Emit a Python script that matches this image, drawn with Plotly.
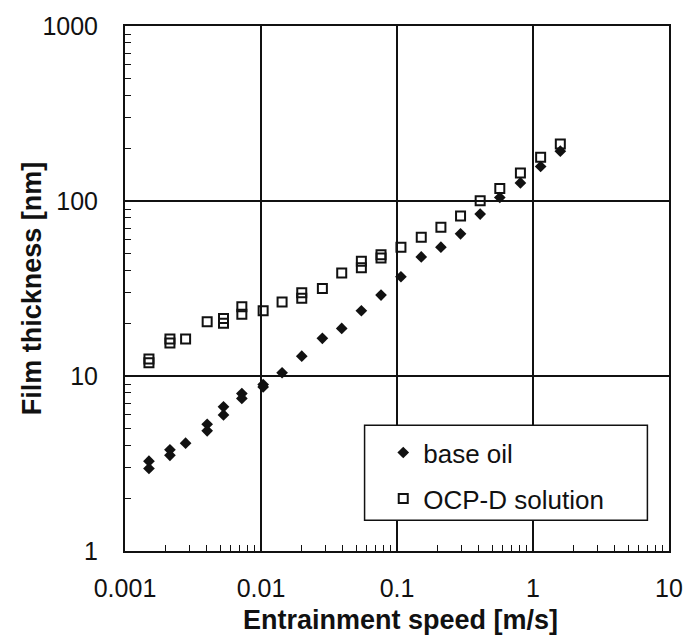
import plotly.graph_objects as go

# ---- data ----
base_oil_speed = [0.0015, 0.0015, 0.00214, 0.00214, 0.00279, 0.00402, 0.00402,
                  0.0053, 0.0053, 0.00723, 0.00723, 0.01037, 0.01037, 0.01429,
                  0.01994, 0.02827, 0.03922, 0.0547, 0.0763, 0.1069, 0.1508,
                  0.2103, 0.2933, 0.4088, 0.570, 0.808, 1.138, 1.588]
base_oil_thickness = [3.26, 2.96, 3.79, 3.52, 4.13, 5.30, 4.86,
                      6.67, 5.99, 7.94, 7.44, 8.93, 8.66, 10.44,
                      12.98, 16.42, 18.7, 23.6, 29.0, 36.9, 47.9,
                      54.5, 64.9, 84.2, 104.7, 126.8, 157.5, 192.5]

ocp_speed = [0.0015, 0.0015, 0.00214, 0.00214, 0.00279, 0.00402, 0.0053, 0.0053,
             0.00723, 0.00723, 0.01037, 0.01429, 0.01994, 0.01994, 0.02827,
             0.03922, 0.0547, 0.0547, 0.0763, 0.0763, 0.1069, 0.1508, 0.2103,
             0.2933, 0.4088, 0.570, 0.808, 1.138, 1.588]
ocp_thickness = [12.5, 11.9, 16.27, 15.44, 16.27, 20.4, 21.3, 20.0,
                 24.9, 22.5, 23.6, 26.5, 29.9, 27.8, 31.6,
                 38.8, 45.2, 41.5, 49.3, 47.2, 54.5, 62.1, 70.8,
                 82.0, 100.3, 117.7, 144.4, 178.0, 211.6]

x_tickvals = [0.001, 0.01, 0.1, 1, 10]
x_ticktext = ["0.001", "0.01", "0.1", "1", "10"]
y_tickvals = [1, 10, 100, 1000]
y_ticktext = ["1", "10", "100", "1000"]

series_names = ["base oil", "OCP-D solution"]
x_title = "Entrainment speed [m/s]"
y_title = "Film thickness [nm]"

FONT = "Liberation Sans, Arial, sans-serif"
INK = "#111111"

fig = go.Figure()
fig.add_trace(go.Scatter(
    x=base_oil_speed, y=base_oil_thickness, mode="markers", name=series_names[0],
    marker=dict(symbol="diamond", size=9, color=INK, line=dict(width=0)),
    legend="legend",
))
fig.add_trace(go.Scatter(
    x=ocp_speed, y=ocp_thickness, mode="markers", name=series_names[1],
    marker=dict(symbol="square-open", size=9, color=INK, line=dict(width=2, color=INK)),
    legend="legend2",
))

axis_common = dict(
    type="log",
    showline=True, linecolor=INK, linewidth=2, mirror=True,
    showgrid=True, gridcolor=INK, gridwidth=1.5,
    zeroline=False,
    ticks="inside", ticklen=8, tickwidth=1.5, tickcolor=INK,
    tickfont=dict(family=FONT, size=25, color=INK),
    minor=dict(ticks="inside", ticklen=6, tickwidth=1.2, tickcolor=INK,
               dtick="D1", showgrid=False),
)

fig.update_xaxes(**axis_common, range=[-3, 1], tickvals=x_tickvals,
                 ticktext=x_ticktext, ticklabelstandoff=14)
fig.update_yaxes(**axis_common, range=[0, 3], tickvals=y_tickvals,
                 ticktext=y_ticktext, ticklabelstandoff=20)

# legend frame (white box hiding the grid)
fig.add_shape(type="rect", xref="paper", yref="paper",
              x0=0.4404, x1=0.9603, y0=0.0585, y1=0.2396,
              line=dict(color=INK, width=1.5), fillcolor="white", layer="above")

legend_common = dict(bgcolor="rgba(0,0,0,0)", borderwidth=0,
                     font=dict(family=FONT, size=26, color=INK),
                     xanchor="left", yanchor="middle", x=0.4747)
fig.update_layout(
    legend=dict(**legend_common, y=0.1874),
    legend2=dict(**legend_common, y=0.10),
)

fig.add_annotation(text=f"<b>{x_title}</b>", xref="paper", yref="paper",
                   x=0.5072, y=-0.132, xanchor="center", yanchor="middle",
                   showarrow=False, font=dict(family=FONT, size=27, color=INK))
fig.add_annotation(text=f"<b>{y_title}</b>", xref="paper", yref="paper",
                   x=-0.1715, y=0.5, xanchor="center", yanchor="middle",
                   textangle=-90, showarrow=False,
                   font=dict(family=FONT, size=27, color=INK))

fig.update_layout(
    width=695, height=637,
    margin=dict(l=125, r=16, t=21, b=86),
    paper_bgcolor="white", plot_bgcolor="white",
    showlegend=True,
)

fig.write_html("out.html")
